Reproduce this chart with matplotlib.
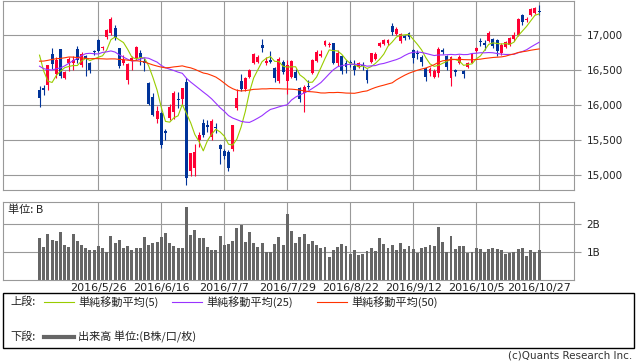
import numpy as np
import pandas as pd
import matplotlib
matplotlib.use("Agg")
import matplotlib.pyplot as plt
from matplotlib.patches import Rectangle
from matplotlib.lines import Line2D

plt.rcParams['font.family'] = ['DejaVu Sans', 'Noto Sans CJK JP']
JP = ['Noto Sans CJK JP', 'DejaVu Sans']

# trading days shown (2016)
dates = ['5/6', '5/9', '5/10', '5/11', '5/12', '5/13', '5/16', '5/17', '5/18', '5/19',
         '5/20', '5/23', '5/24', '5/25', '5/26', '5/27', '5/30', '5/31', '6/1', '6/2',
         '6/3', '6/6', '6/7', '6/8', '6/9', '6/10', '6/13', '6/14', '6/15', '6/16',
         '6/17', '6/20', '6/21', '6/22', '6/23', '6/24', '6/27', '6/28', '6/29', '6/30',
         '7/1', '7/4', '7/5', '7/6', '7/7', '7/8', '7/11', '7/12', '7/13', '7/14',
         '7/15', '7/19', '7/20', '7/21', '7/22', '7/25', '7/26', '7/27', '7/28', '7/29',
         '8/1', '8/2', '8/3', '8/4', '8/5', '8/8', '8/9', '8/10', '8/12', '8/15',
         '8/16', '8/17', '8/18', '8/19', '8/22', '8/23', '8/24', '8/25', '8/26', '8/29',
         '8/30', '8/31', '9/1', '9/2', '9/5', '9/6', '9/7', '9/8', '9/9', '9/12',
         '9/13', '9/14', '9/15', '9/16', '9/20', '9/21', '9/23', '9/26', '9/27', '9/28',
         '9/29', '9/30', '10/3', '10/4', '10/5', '10/6', '10/7', '10/11', '10/12', '10/13',
         '10/14', '10/17', '10/18', '10/19', '10/20', '10/21', '10/24', '10/25', '10/26', '10/27']

opens = [16216, 16240, 16290, 16729, 16443, 16795, 16381, 16604, 16600, 16795,
         16571, 16700, 16604, 16760, 16929, 16815, 16967, 17024, 17095, 16810,
         16596, 16357, 16629, 16667, 16738, 16629, 16319, 16119, 15795, 15881,
         15629, 15810, 15900, 16080, 16081, 16333, 15061, 15100, 15500, 15747,
         15710, 15538, 15690, 15429, 15343, 15333, 15367, 15952, 16343, 16224,
         16396, 16604, 16619, 16857, 16604, 16650, 16524, 16347, 16619, 16347,
         16396, 16476, 16247, 16176, 16276, 16453, 16633, 16700, 16857, 16857,
         16881, 16600, 16707, 16600, 16620, 16560, 16547, 16575, 16500, 16619,
         16652, 16848, 16871, 16881, 17133, 17014, 16919, 16986, 17024, 16786,
         16750, 16690, 16524, 16453, 16396, 16461, 16780, 16700, 16386, 16500,
         16595, 16486, 16548, 16605, 16771, 16914, 16890, 16919, 16938, 16929,
         16738, 16833, 16857, 16938, 17000, 17290, 17210, 17286, 17310, 17343]

highs = [16271, 16280, 16571, 16810, 16680, 16800, 16480, 16690, 16700, 16843,
         16760, 16720, 16620, 16790, 16950, 16850, 17080, 17262, 17140, 16810,
         16714, 16600, 16700, 16840, 16786, 16667, 16330, 16170, 15990, 15900,
         15660, 16020, 16205, 16190, 16250, 16390, 15320, 15450, 15619, 15800,
         15790, 15800, 15740, 15440, 15370, 15360, 15720, 16224, 16440, 16400,
         16520, 16740, 16720, 16938, 16680, 16776, 16540, 16680, 16640, 16650,
         16650, 16520, 16260, 16290, 16357, 16660, 16790, 16790, 16930, 16900,
         16890, 16790, 16720, 16640, 16640, 16643, 16620, 16620, 16520, 16740,
         16760, 16900, 16940, 16940, 17167, 17110, 17030, 17000, 17040, 16800,
         16780, 16720, 16530, 16540, 16520, 16830, 16810, 16720, 16700, 16520,
         16720, 16500, 16620, 16740, 16830, 16960, 16930, 17060, 16960, 16950,
         16880, 16920, 16970, 17040, 17240, 17300, 17260, 17380, 17400, 17430]

lows = [15975, 16150, 16214, 16514, 16386, 16393, 16370, 16490, 16500, 16600,
        16540, 16420, 16460, 16720, 16762, 16780, 16950, 17000, 16930, 16530,
        16571, 16300, 16500, 16650, 16571, 16490, 16000, 15840, 15750, 15381,
        15500, 15790, 15800, 15952, 16000, 14864, 14990, 14980, 15405, 15550,
        15620, 15500, 15600, 15157, 15230, 15060, 15340, 15930, 16200, 16200,
        16380, 16590, 16600, 16757, 16570, 16600, 16330, 16320, 16440, 16160,
        16380, 16360, 16050, 15905, 16230, 16440, 16620, 16680, 16840, 16830,
        16580, 16560, 16450, 16460, 16540, 16430, 16530, 16500, 16310, 16600,
        16640, 16830, 16860, 16860, 17000, 17000, 16880, 16930, 16950, 16600,
        16660, 16560, 16350, 16420, 16380, 16400, 16730, 16500, 16271, 16420,
        16580, 16380, 16530, 16600, 16760, 16850, 16790, 16900, 16810, 16700,
        16720, 16810, 16840, 16920, 16990, 17140, 17180, 17270, 17300, 17290]

closes = [16106, 16216, 16565, 16579, 16646, 16412, 16466, 16652, 16644, 16646,
          16736, 16654, 16498, 16757, 16772, 16834, 17068, 17234, 16955, 16562,
          16642, 16580, 16675, 16830, 16668, 16601, 16019, 15859, 15919, 15434,
          15599, 15965, 16169, 16065, 16238, 14952, 15309, 15323, 15566, 15575,
          15682, 15775, 15669, 15378, 15276, 15106, 15708, 16095, 16231, 16385,
          16497, 16723, 16681, 16810, 16627, 16620, 16383, 16664, 16476, 16569,
          16635, 16391, 16083, 16254, 16254, 16650, 16764, 16735, 16919, 16869,
          16596, 16745, 16486, 16545, 16598, 16497, 16597, 16556, 16360, 16737,
          16725, 16887, 16926, 16925, 17037, 17081, 17012, 16958, 16965, 16672,
          16729, 16614, 16405, 16519, 16492, 16807, 16754, 16544, 16683, 16465,
          16693, 16449, 16599, 16735, 16819, 16899, 16860, 17024, 16840, 16774,
          16856, 16900, 16963, 16998, 17235, 17184, 17234, 17365, 17391, 17336]

# closes before the window, needed for the moving averages at the left edge
prior_closes = [16111, 16052, 15915, 16140, 16188, 16027, 16086, 16747, 16960, 17015,
                16912, 16784, 16642, 16852, 16939, 17233, 17117, 16974, 16937, 16725,
                17049, 17001, 16892, 17003, 17135, 17103, 16878, 16759, 16164, 16123,
                15733, 15715, 15750, 15822, 15751, 15928, 16381, 16911, 16848, 16275,
                16875, 16906, 17363, 17572, 17440, 17353, 17290, 16666, 16147]

# volume, billions of shares
volumes = [1.52, 1.20, 1.65, 1.45, 1.40, 1.74, 1.26, 1.20, 1.65, 1.41,
           1.26, 1.17, 1.09, 1.09, 1.24, 1.14, 1.02, 1.59, 1.34, 1.45,
           1.14, 1.24, 1.09, 1.14, 1.17, 1.56, 1.27, 1.34, 1.38, 1.56,
           1.70, 1.34, 1.24, 1.14, 1.14, 2.62, 1.62, 1.81, 1.50, 1.52,
           1.20, 1.09, 1.09, 1.59, 1.26, 1.31, 1.41, 1.88, 1.99, 1.38,
           1.74, 1.34, 1.20, 1.34, 1.02, 1.02, 1.31, 1.56, 1.26, 2.37,
           1.77, 1.34, 1.56, 1.64, 1.31, 1.41, 1.26, 1.17, 1.20, 0.84,
           1.08, 1.19, 1.30, 1.24, 0.94, 1.08, 0.90, 0.95, 1.05, 1.17,
           1.05, 1.52, 1.30, 1.17, 1.26, 1.08, 1.34, 1.13, 1.22, 1.13,
           0.99, 1.17, 1.20, 1.27, 1.24, 1.90, 1.37, 1.01, 1.59, 1.13,
           1.22, 1.22, 0.99, 1.01, 1.17, 1.13, 1.01, 1.13, 1.17, 1.13,
           1.08, 0.94, 0.99, 1.01, 1.13, 1.17, 0.87, 1.08, 1.00, 1.09]

label_dates = ['5/26', '6/16', '7/7', '7/29', '8/22', '9/12', '10/5', '10/27']
ma_periods = [5, 25, 50]
ma_colors = ['#99cc00', '#9933ff', '#ff3300']
ma_labels = ['単純移動平均(5)', '単純移動平均(25)', '単純移動平均(50)']

W, H = 638, 362
RED, BLUE, GRID = '#ff0033', '#003399', '#999999'


def px(x, y):
    return x / W, 1 - y / H


o = np.array(opens, float)
c = np.array(closes, float)
hi = np.array(highs, float)
lo = np.array(lows, float)
n = len(c)
idx = np.arange(n)
cols = np.where(c >= o, RED, BLUE)

allc = pd.Series(prior_closes + closes, dtype=float)
npre = len(prior_closes)

tick_pos = [dates.index(d) for d in label_dates]
tick_lab = ['2016/' + d for d in label_dates]

fig = plt.figure(figsize=(W / 100, H / 100), dpi=100)
ax1 = fig.add_axes([3 / W, 1 - 190 / H, 571 / W, 189 / H])
ax2 = fig.add_axes([3 / W, 1 - 280.3 / H, 571 / W, 78.6 / H])

# candles
ax1.vlines(idx, lo, hi, colors=cols, lw=0.8, zorder=2)
body_lo = np.minimum(o, c)
body_h = np.maximum(np.abs(c - o), 12)
ax1.bar(idx, body_h, bottom=body_lo, width=0.7, color=cols, lw=0, zorder=2)

for p, col in zip(ma_periods, ma_colors):
    ma = allc.rolling(p).mean().to_numpy()[npre:]
    ax1.plot(idx, ma, color=col, lw=0.8, zorder=3)

ax2.bar(idx, volumes, width=0.7, color='#666666', lw=0, zorder=2)

for ax in (ax1, ax2):
    ax.set_xlim(-8.7, 127.3)
    ax.set_xticks(tick_pos)
    ax.grid(True, color=GRID, lw=0.8, zorder=0)
    for s in ax.spines.values():
        s.set_color(GRID)
        s.set_linewidth(0.8)
    ax.yaxis.tick_right()
    ax.tick_params(axis='y', length=5, width=0.8, color=GRID, labelsize=7.5,
                   labelcolor='#222222', pad=4)
    ax.set_axisbelow(True)

ax1.set_ylim(14786, 17486)
ax1.set_yticks([15000, 15500, 16000, 16500, 17000])
ax1.set_yticklabels([f'{v:,}' for v in [15000, 15500, 16000, 16500, 17000]])
ax1.tick_params(axis='x', length=0, labelbottom=False)

ax2.set_ylim(0, 2.807)
ax2.set_yticks([1, 2])
ax2.set_yticklabels(['1B', '2B'])
ax2.set_xticklabels(tick_lab)
ax2.tick_params(axis='x', length=0, labelsize=8, labelcolor='#222222', pad=2)
ax2.text(*px(8, 210), '単位: B', transform=fig.transFigure, fontsize=8,
         family=JP, va='center', ha='left', color='#222222')

# legend box
fig.patches.append(Rectangle(px(3, 348), 631 / W, 55 / H, fill=False, ec='black',
                             lw=1.0, transform=fig.transFigure))
fig.text(*px(10, 302), '上段:', fontsize=8, family=JP, va='center', color='#222222')
line_x = [44, 172, 317]
for lx, col, lab in zip(line_x, ma_colors, ma_labels):
    fig.lines.append(Line2D([lx / W, (lx + 30) / W], [px(0, 302)[1]] * 2, color=col,
                            lw=0.8, transform=fig.transFigure))
    fig.text(*px(lx + 34, 302), lab, fontsize=8, family=JP, va='center', color='#222222')
fig.text(*px(10, 337), '下段:', fontsize=8, family=JP, va='center', color='#222222')
fig.lines.append(Line2D([44 / W, 74 / W], [px(0, 337)[1]] * 2, color='#666666', lw=3,
                        transform=fig.transFigure))
fig.text(*px(78, 337), '出来高 単位:(B株/口/枚)', fontsize=8, family=JP, va='center',
         color='#222222')
fig.text(*px(632, 355), '(c)Quants Research Inc.', fontsize=7.5, ha='right',
         va='center', color='#333333')

fig.savefig('out.png', dpi=100)
